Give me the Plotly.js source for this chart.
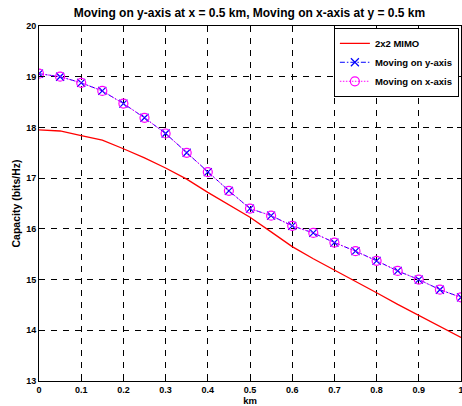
<!DOCTYPE html>
<html>
<head>
<meta charset="utf-8">
<script src="https://cdn.plot.ly/plotly-3.0.1.min.js"></script>
<style>html,body{margin:0;padding:0;background:#fff;}#chart{width:462px;height:406px;}</style>
</head>
<body>
<div id="chart"></div>
<script>
const distanceKm = [0, 0.05, 0.1, 0.15, 0.2, 0.25, 0.3, 0.35, 0.4, 0.45, 0.5, 0.55, 0.6, 0.65, 0.7, 0.75, 0.8, 0.85, 0.9, 0.95, 1.0];
const mimo2x2 = [17.95, 17.93, 17.84, 17.75, 17.58, 17.40, 17.20, 16.98, 16.72, 16.47, 16.23, 15.94, 15.65, 15.41, 15.19, 14.96, 14.74, 14.51, 14.29, 14.07, 13.86];
const movingY = [19.06, 19.00, 18.88, 18.72, 18.47, 18.19, 17.88, 17.50, 17.12, 16.75, 16.40, 16.26, 16.06, 15.92, 15.73, 15.56, 15.37, 15.17, 15.00, 14.80, 14.65];
const movingX = [19.06, 19.00, 18.88, 18.72, 18.47, 18.19, 17.88, 17.50, 17.12, 16.75, 16.40, 16.26, 16.06, 15.92, 15.73, 15.56, 15.37, 15.17, 15.00, 14.80, 14.65];
const seriesNames = ['2x2 MIMO', 'Moving on y-axis', 'Moving on x-axis'];
const titleText = 'Moving on y-axis at x = 0.5 km, Moving on x-axis at y = 0.5 km';
const xTitle = 'km';
const yTitle = 'Capacity (bits/Hz)';

const fontFam = 'Liberation Sans, Arial, sans-serif';
const traces = [
  {x: distanceKm, y: mimo2x2, name: seriesNames[0], mode: 'lines', line: {color: '#ff0000', width: 1.3}},
  {x: distanceKm, y: movingY, name: seriesNames[1], mode: 'lines+markers', line: {color: '#0000ff', width: 1, dash: '5px,2px,1.5px,2px'}, marker: {symbol: 'x-thin-open', size: 8, color: '#0000ff', line: {color: '#0000ff', width: 1.2}}},
  {x: distanceKm, y: movingX, name: seriesNames[2], mode: 'lines+markers', line: {color: '#ff00ff', width: 1, dash: '1.5px,1.5px'}, marker: {symbol: 'circle-open', size: 9, color: '#ff00ff', line: {color: '#ff00ff', width: 1.2}}}
];
const axisCommon = {
  showline: true, linecolor: '#000', linewidth: 1, mirror: 'ticks',
  ticks: 'inside', ticklen: 4, tickcolor: '#000', tickwidth: 1,
  showgrid: true, gridcolor: '#000', gridwidth: 1, griddash: '6px,6px',
  zeroline: false,
  tickfont: {family: fontFam, size: 9, color: '#000', weight: 'bold'}
};
const layout = {
  width: 462, height: 406,
  margin: {l: 39, r: 1, t: 26, b: 25},
  paper_bgcolor: '#fff', plot_bgcolor: '#fff',
  showlegend: true,
  title: {text: titleText, font: {family: fontFam, size: 12, color: '#000', weight: 'bold'}, x: 0.54, xanchor: 'center', y: 0.968, yanchor: 'middle'},
  xaxis: Object.assign({}, axisCommon, {range: [0, 1], dtick: 0.1, tick0: 0, ticklabeloverflow: 'allow',
    title: {text: xTitle, font: {family: fontFam, size: 9.5, color: '#000', weight: 'bold'}, standoff: 4}}),
  yaxis: Object.assign({}, axisCommon, {range: [13, 20], dtick: 1, tick0: 13,
    title: {text: yTitle, font: {family: fontFam, size: 10.5, color: '#000', weight: 'bold'}, standoff: 3}}),
  legend: {x: 0.995, y: 0.995, xanchor: 'right', yanchor: 'top', bgcolor: '#fff', bordercolor: '#000', borderwidth: 1,
    font: {family: fontFam, size: 9.5, color: '#000', weight: 'bold'}, tracegroupgap: 0, itemwidth: 30}
};
Plotly.newPlot('chart', traces, layout, {displayModeBar: false, staticPlot: true});
</script>
</body>
</html>
